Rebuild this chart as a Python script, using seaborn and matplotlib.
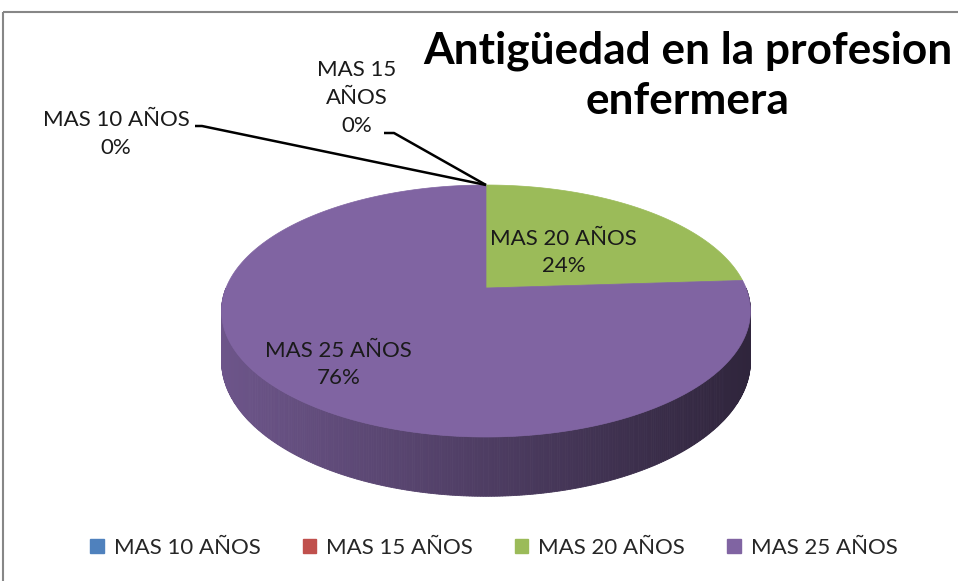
import numpy as np
import matplotlib
matplotlib.use("Agg")
import matplotlib.pyplot as plt
import seaborn as sns
from matplotlib.patches import Polygon, Rectangle, Patch

# ---- data ----
categories = ["MAS 10 AÑOS", "MAS 15 AÑOS", "MAS 20 AÑOS", "MAS 25 AÑOS"]
values = [0, 0, 24, 76]
pct_labels = ["0%", "0%", "24%", "76%"]
title = "Antigüedad en la profesion\nenfermera"

sns.set_theme(style="white")
plt.rcParams['font.family'] = ['Lato', 'DejaVu Sans']
colors = ["#4F81BD", "#C0504D", "#9BBB59", "#8064A2"]

fig = plt.figure(figsize=(9.58, 5.81), dpi=100)
ax = fig.add_axes([0, 0, 1, 1])
ax.set_xlim(0, 958)
ax.set_ylim(581, 0)
ax.axis('off')

# pie geometry (layout)
cx, cy = 486, 288
A, B, K = 260, 121.8, 0.1825
depth = 48.5


def proj(theta_deg, r=1.0, down=0.0):
    t = np.radians(theta_deg)
    x = r * np.cos(t)
    y = r * np.sin(t)
    w = 1 + K * y
    return cx + A * x / w, cy - B * y / w + down / w


total = float(sum(values))
fracs = [v / total for v in values]
cum = np.concatenate([[0], np.cumsum(fracs)])
# angles: start at 90 deg, clockwise
spans = [(90 - cum[i + 1] * 360, 90 - cum[i] * 360) for i in range(len(values))]


def slice_at(theta):
    for i, (a0, a1) in enumerate(spans):
        if fracs[i] == 0:
            continue
        for k in (-360, 0, 360):
            if a0 <= theta + k <= a1:
                return i
    return len(values) - 1


def shade(hexc, f):
    c = np.array(matplotlib.colors.to_rgb(hexc))
    return tuple(np.clip(c * f, 0, 1))


# side wall (front half: angles 180..360)
step = 0.5
xmin, xmax = cx - A * 1.05, cx + A * 1.05
for th in np.arange(180, 360, step):
    i = slice_at(th + step / 2)
    x0, y0 = proj(th)
    x1, y1 = proj(th + step)
    x0b, y0b = proj(th, down=depth)
    x1b, y1b = proj(th + step, down=depth)
    xm = (x0 + x1) / 2
    f = 0.86 - 0.50 * (xm - xmin) / (xmax - xmin)
    col = shade(colors[i], f)
    ax.add_patch(Polygon([(x0, y0), (x1, y1), (x1b, y1b), (x0b, y0b)],
                         closed=True, facecolor=col, edgecolor=col, lw=0.6))

# top faces
for i, (a0, a1) in enumerate(spans):
    if fracs[i] == 0:
        continue
    ths = np.linspace(a0, a1, 400)
    pts = [proj(t) for t in ths]
    poly = [(cx, cy)] + pts
    ax.add_patch(Polygon(poly, closed=True, facecolor=colors[i],
                         edgecolor=colors[i], lw=0.5))

# labels inside
label_r = [1.0, 1.0, 0.5, 0.72]
label_fs = 16
for i in range(len(values)):
    if fracs[i] == 0:
        continue
    mid = (spans[i][0] + spans[i][1]) / 2
    lx, ly = proj(mid, r=label_r[i])
    ax.text(lx - 6, ly + 6, f"{categories[i]}\n{pct_labels[i]}", ha='center', va='center',
            fontsize=label_fs, color='#1a1a1a', linespacing=1.45)

# zero-value labels with leader lines
top_x, top_y = proj(90)
zero_text_pos = {0: (116, 134), 1: (357, 98)}
zero_text = {0: f"{categories[0]}\n{pct_labels[0]}", 1: "MAS 15\nAÑOS\n" + pct_labels[1]}
zero_anchor = {0: [(195, 126), (202, 126)], 1: [(384, 133), (394, 133)]}
for i in (0, 1):
    tx, ty = zero_text_pos[i]
    ax.text(tx, ty, zero_text[i], ha='center', va='center', fontsize=label_fs,
            color='#1a1a1a', linespacing=1.5)
    (ax0, ay0), (ax1, ay1) = zero_anchor[i]
    ax.plot([ax0, ax1, top_x], [ay0, ay1, top_y], color='black', lw=1.8,
            solid_capstyle='butt')

# title
ax.text(688, 76, title, ha='center', va='center', fontsize=31.8, fontweight='bold',
        color='black', linespacing=1.3)

# border
ax.add_patch(Rectangle((3, 12), 1200, 1200, fill=False, edgecolor='#878787', lw=1.5))

# legend
handles = [Patch(facecolor=c, edgecolor=c) for c in colors]
ax.legend(handles, categories, loc='center', bbox_to_anchor=(494 / 958, 1 - 548 / 581),
          ncol=4, frameon=False, fontsize=16, handlelength=0.6, handleheight=0.6,
          handletextpad=0.45, columnspacing=1.9)

fig.savefig("out.png", dpi=100)
